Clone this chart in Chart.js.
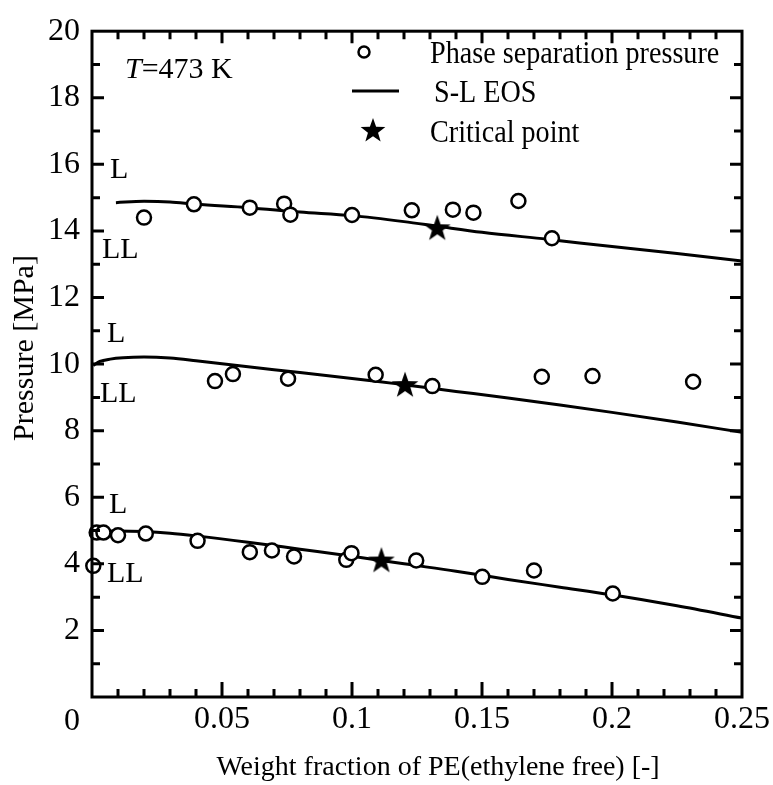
<!DOCTYPE html>
<html>
<head>
<meta charset="utf-8">
<script src="https://cdn.jsdelivr.net/npm/chart.js@4.4.1/dist/chart.umd.min.js"></script>
<style>
html,body{margin:0;padding:0;background:#fff;}
canvas{display:block;}
</style>
</head>
<body>
<canvas id="c" width="773" height="785"></canvas>
<script>
// ---------- data ----------
const xTickValues = [0, 0.05, 0.1, 0.15, 0.2, 0.25];
const xTickLabels = ['0', '0.05', '0.1', '0.15', '0.2', '0.25'];
const yTickValues = [0, 2, 4, 6, 8, 10, 12, 14, 16, 18, 20];
const yTickLabels = ['', '2', '4', '6', '8', '10', '12', '14', '16', '18', '20'];

// Phase separation pressure (experiment)
const expTopX = [0.0200, 0.0392, 0.0607, 0.0739, 0.0763, 0.1000, 0.1230, 0.1388, 0.1467, 0.1640, 0.1769];
const expTopP = [14.40, 14.80, 14.70, 14.82, 14.49, 14.48, 14.62, 14.64, 14.55, 14.90, 13.78];
const expMidX = [0.0473, 0.0542, 0.0754, 0.1091, 0.1309, 0.1730, 0.1925, 0.2312];
const expMidP = [9.49, 9.70, 9.56, 9.68, 9.34, 9.62, 9.64, 9.47];
const expLowX = [0.0005, 0.0018, 0.0044, 0.0100, 0.0207, 0.0406, 0.0607, 0.0692, 0.0777, 0.0978, 0.0998, 0.1247, 0.1501, 0.1700, 0.2003];
const expLowP = [3.94, 4.94, 4.94, 4.86, 4.91, 4.69, 4.35, 4.40, 4.22, 4.12, 4.32, 4.10, 3.61, 3.80, 3.11];

// Critical points
const critX = [0.1328, 0.1204, 0.1113];
const critP = [14.08, 9.37, 4.10];

// S-L EOS curves
const eosTopX = [0.0092, 0.02, 0.03, 0.04, 0.06, 0.08, 0.1, 0.12, 0.133, 0.15, 0.175, 0.2, 0.225, 0.25];
const eosTopP = [14.85, 14.89, 14.87, 14.80, 14.70, 14.57, 14.46, 14.28, 14.14, 13.96, 13.75, 13.53, 13.32, 13.10];
const eosMidX = [0.0005, 0.003, 0.007, 0.012, 0.02, 0.03, 0.04, 0.05, 0.07, 0.09, 0.11, 0.12, 0.14, 0.16, 0.18, 0.2, 0.225, 0.25];
const eosMidP = [9.96, 10.08, 10.15, 10.19, 10.21, 10.18, 10.10, 10.01, 9.83, 9.66, 9.48, 9.38, 9.18, 8.98, 8.77, 8.55, 8.26, 7.95];
const eosLowX = [0, 0.01, 0.02, 0.03, 0.04, 0.06, 0.08, 0.1, 0.12, 0.14, 0.16, 0.18, 0.2, 0.225, 0.25];
const eosLowP = [4.98, 4.99, 4.97, 4.92, 4.84, 4.65, 4.44, 4.23, 4.00, 3.78, 3.53, 3.30, 3.07, 2.74, 2.37];

const legendLabels = ['Phase separation pressure', 'S-L EOS', 'Critical point'];
const xTitle = 'Weight fraction of PE(ethylene free) [-]';
const yTitle = 'Pressure [MPa]';

// ---------- helpers ----------
const pts = (xs, ys) => xs.map((v, i) => ({x: v, y: ys[i]}));
const SERIF = '"Liberation Serif", "Times New Roman", serif';

function starPath(ctx, cx, cy, R, r) {
  ctx.beginPath();
  for (let i = 0; i < 10; i++) {
    const rad = i % 2 === 0 ? R : r;
    const a = -Math.PI / 2 + i * Math.PI / 5;
    const px = cx + rad * Math.cos(a), py = cy + rad * Math.sin(a);
    if (i === 0) ctx.moveTo(px, py); else ctx.lineTo(px, py);
  }
  ctx.closePath();
}
const starImg = document.createElement('canvas');
starImg.width = 30; starImg.height = 30;
(function(){
  const c = starImg.getContext('2d');
  c.fillStyle = '#000';
  starPath(c, 15, 15.5, 14, 5.6);
  c.fill();
})();

function drawText(ctx, s, x, y, size, sx, opts) {
  opts = opts || {};
  ctx.save();
  ctx.font = (opts.italic ? 'italic ' : '') + size + 'px ' + SERIF;
  ctx.fillStyle = '#000';
  ctx.textAlign = opts.align || 'left';
  ctx.textBaseline = 'alphabetic';
  ctx.translate(x, y);
  if (opts.rotate) ctx.rotate(opts.rotate);
  ctx.scale(sx, 1);
  ctx.fillText(s, 0, 0);
  const w = ctx.measureText(s).width * sx;
  ctx.restore();
  return w;
}

const framePlugin = {
  id: 'framePlugin',
  beforeDraw(chart) {
    const ctx = chart.ctx;
    ctx.save();
    ctx.fillStyle = '#fff';
    ctx.fillRect(0, 0, chart.width, chart.height);
    ctx.restore();
  },
  afterDraw(chart) {
    const ctx = chart.ctx;
    const a = chart.chartArea;
    const xs = chart.scales.x, ys = chart.scales.y;
    ctx.save();
    ctx.strokeStyle = '#000';
    ctx.lineWidth = 3;
    ctx.lineCap = 'butt';
    ctx.strokeRect(a.left, a.top, a.right - a.left, a.bottom - a.top);
    ctx.beginPath();
    // x ticks (bottom and top), minor every 0.01, major every 0.05
    for (let k = 1; k < 25; k++) {
      const v = k / 100;
      const px = xs.getPixelForValue(v);
      const major = k % 5 === 0;
      const lb = major ? 15 : 8;
      const lt = major ? 12 : 8;
      ctx.moveTo(px, a.bottom); ctx.lineTo(px, a.bottom - lb);
      ctx.moveTo(px, a.top); ctx.lineTo(px, a.top + lt);
    }
    // y ticks (left and right), minor every 1, major every 2
    for (let k = 1; k < 20; k++) {
      const py = ys.getPixelForValue(k);
      const L = k % 2 === 0 ? 12 : 8;
      ctx.moveTo(a.left, py); ctx.lineTo(a.left + L, py);
      ctx.moveTo(a.right, py); ctx.lineTo(a.right - L, py);
    }
    ctx.stroke();

    // corner "0" label shared by both axes
    drawText(ctx, xTickLabels[0], 72, 730, 32, 1, {align: 'center'});

    // axis titles
    drawText(ctx, xTitle, 438, 775, 28, 1, {align: 'center'});
    drawText(ctx, yTitle, 33, 348, 30, 1, {align: 'center', rotate: -Math.PI / 2});

    // annotations
    const tw = drawText(ctx, 'T', 125, 78, 30, 1, {italic: true});
    drawText(ctx, '=473 K', 125 + tw, 78, 30, 1);
    drawText(ctx, 'L', 110, 178, 30, 1);
    drawText(ctx, 'LL', 102, 258, 30, 1);
    drawText(ctx, 'L', 107, 342, 30, 1);
    drawText(ctx, 'LL', 100, 402, 30, 1);
    drawText(ctx, 'L', 109, 513, 30, 1);
    drawText(ctx, 'LL', 107, 582, 30, 1);

    // legend
    ctx.lineWidth = 2.5;
    ctx.beginPath();
    ctx.arc(364, 52, 5.5, 0, Math.PI * 2);
    ctx.fillStyle = '#fff';
    ctx.fill();
    ctx.stroke();
    ctx.lineWidth = 3;
    ctx.beginPath();
    ctx.moveTo(352, 91); ctx.lineTo(399, 91);
    ctx.stroke();
    ctx.fillStyle = '#000';
    starPath(ctx, 373, 131, 13, 5.3);
    ctx.fill();
    drawText(ctx, legendLabels[0], 430, 63, 32, 0.88);
    drawText(ctx, legendLabels[1], 434, 102, 32, 0.88);
    drawText(ctx, legendLabels[2], 430, 142, 32, 0.88);
    ctx.restore();
  }
};

const lineDs = (xs, ys) => ({
  type: 'line', data: pts(xs, ys), borderColor: '#000', borderWidth: 3,
  pointRadius: 0, fill: false, cubicInterpolationMode: 'monotone', order: 3
});
const circDs = (xs, ys) => ({
  type: 'scatter', data: pts(xs, ys), pointStyle: 'circle', pointRadius: 7,
  pointBorderWidth: 2.5, pointBackgroundColor: '#fff', pointBorderColor: '#000',
  showLine: false, clip: false, order: 2
});

new Chart(document.getElementById('c'), {
  type: 'scatter',
  data: {
    datasets: [
      {type: 'scatter', data: pts(critX, critP), pointStyle: starImg, pointRadius: 14,
       showLine: false, clip: false, order: 1},
      circDs(expTopX, expTopP),
      circDs(expMidX, expMidP),
      circDs(expLowX, expLowP),
      lineDs(eosTopX, eosTopP),
      lineDs(eosMidX, eosMidP),
      lineDs(eosLowX, eosLowP)
    ]
  },
  options: {
    responsive: false,
    animation: false,
    devicePixelRatio: 1,
    layout: {padding: {left: 0, right: 31, top: 24, bottom: 0}},
    plugins: {legend: {display: false}, tooltip: {enabled: false}},
    scales: {
      x: {
        type: 'linear', min: 0, max: 0.25,
        afterFit: s => { s.height = 88; },
        afterBuildTicks: s => { s.ticks = xTickValues.map(v => ({value: v})); },
        ticks: {
          color: '#000', padding: 3, maxRotation: 0, autoSkip: false,
          font: {family: SERIF, size: 32, lineHeight: 1.2},
          callback: (v) => { const i = xTickValues.findIndex(t => Math.abs(t - v) < 1e-9); return i <= 0 ? '' : xTickLabels[i]; }
        },
        grid: {display: false, drawTicks: false},
        border: {display: false}
      },
      y: {
        type: 'linear', min: 0, max: 20,
        afterFit: s => { s.width = 92; },
        afterBuildTicks: s => { s.ticks = yTickValues.map(v => ({value: v})); },
        ticks: {
          color: '#000', padding: 12, autoSkip: false,
          font: {family: SERIF, size: 32, lineHeight: 1.2},
          callback: (v) => { const i = yTickValues.findIndex(t => Math.abs(t - v) < 1e-9); return i < 0 ? '' : yTickLabels[i]; }
        },
        grid: {display: false, drawTicks: false},
        border: {display: false}
      }
    }
  },
  plugins: [framePlugin]
});
</script>
</body>
</html>
